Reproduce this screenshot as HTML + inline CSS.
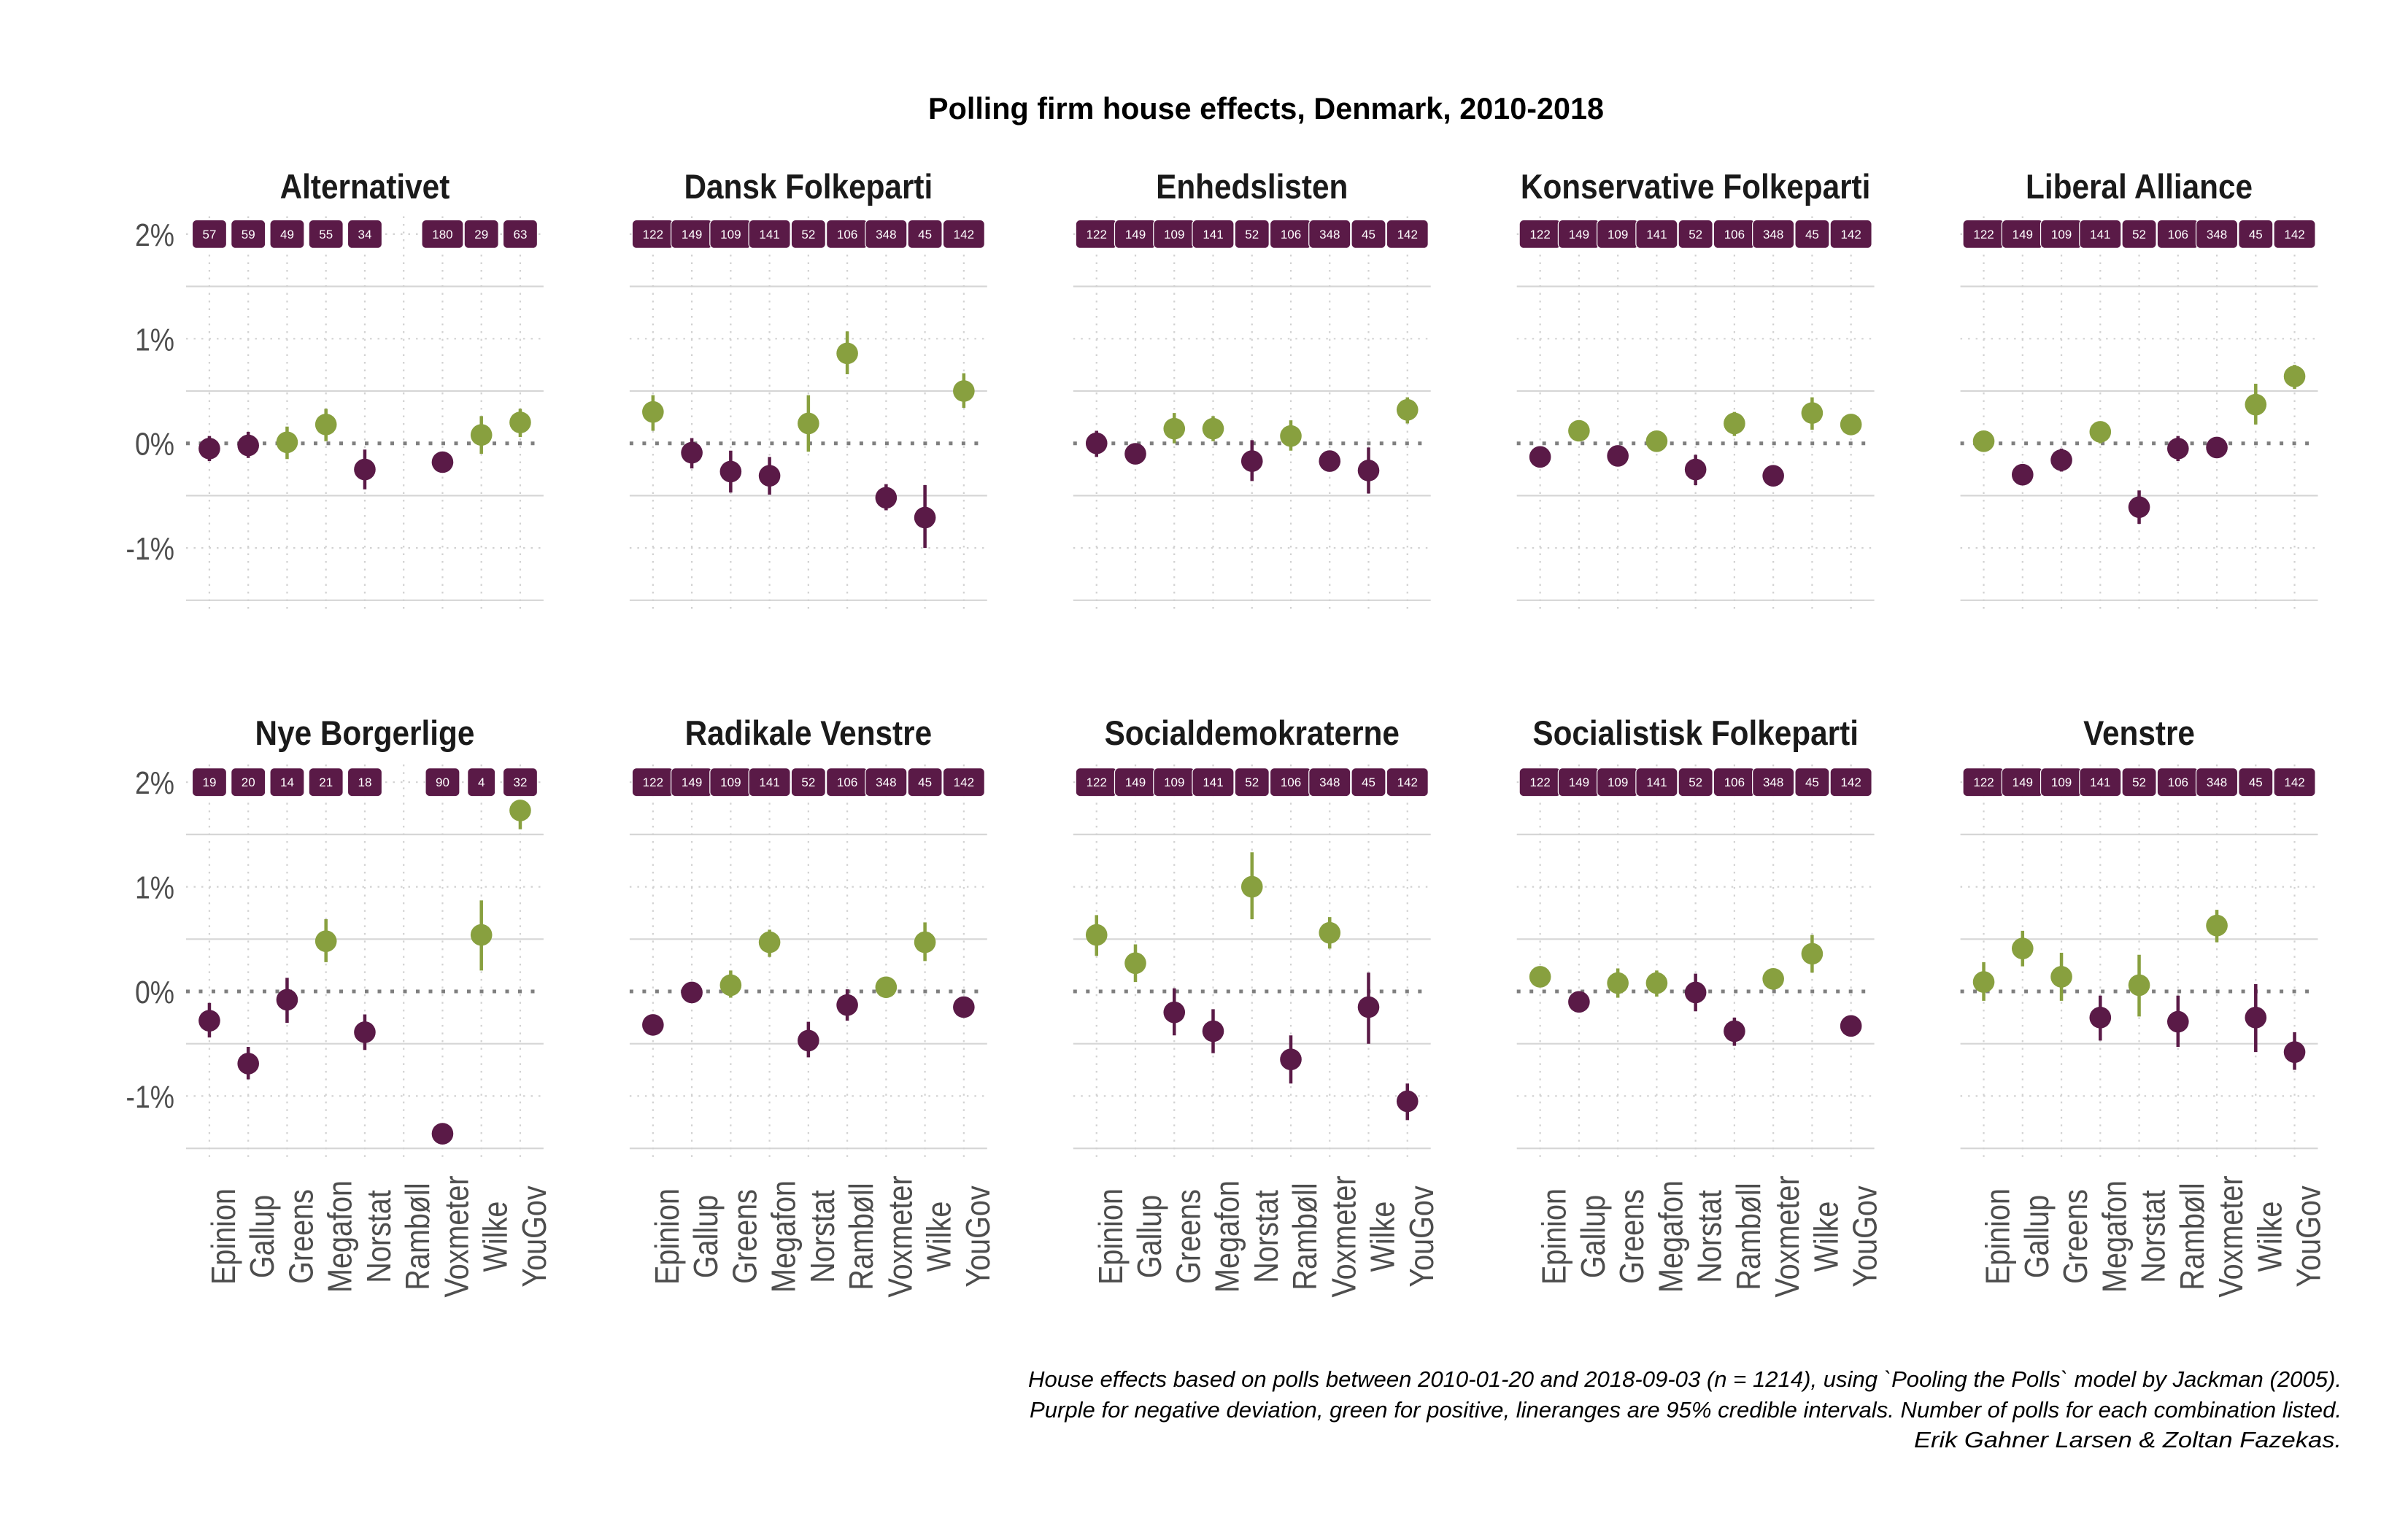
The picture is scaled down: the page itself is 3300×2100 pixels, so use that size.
<!DOCTYPE html>
<html><head><meta charset="utf-8"><title>Polling firm house effects, Denmark, 2010-2018</title>
<style>
html,body{margin:0;padding:0;background:#fff;}
svg{display:block;font-family:"Liberation Sans",Arial,sans-serif;}
</style></head>
<body>
<svg id="chart" width="3300" height="2100" viewBox="0 0 3300 2100" xmlns="http://www.w3.org/2000/svg">
<rect width="3300" height="2100" fill="#ffffff"/>
<text x="1735" y="163" text-anchor="middle" font-size="42" font-weight="bold" fill="#000" textLength="926" lengthAdjust="spacingAndGlyphs">Polling firm house effects, Denmark, 2010-2018</text>
<g font-size="31" font-style="italic" fill="#000" text-anchor="end">
<text x="3209" y="1901" textLength="1800" lengthAdjust="spacingAndGlyphs">House effects based on polls between 2010-01-20 and 2018-09-03 (n = 1214), using `Pooling the Polls` model by Jackman (2005).</text>
<text x="3209" y="1943" textLength="1798" lengthAdjust="spacingAndGlyphs">Purple for negative deviation, green for positive, lineranges are 95% credible intervals. Number of polls for each combination listed.</text>
<text x="3209" y="1984" textLength="586" lengthAdjust="spacingAndGlyphs">Erik Gahner Larsen &amp; Zoltan Fazekas.</text>
</g>
</svg>
<script>
const firms = ["Epinion","Gallup","Greens","Megafon","Norstat","Rambøll","Voxmeter","Wilke","YouGov"];
const parties = ["Alternativet","Dansk Folkeparti","Enhedslisten","Konservative Folkeparti","Liberal Alliance","Nye Borgerlige","Radikale Venstre","Socialdemokraterne","Socialistisk Folkeparti","Venstre"];
const stdCounts = [122,149,109,141,52,106,348,45,142];
const pollCounts = [
  [57,59,49,55,34,null,180,29,63],
  stdCounts, stdCounts, stdCounts, stdCounts,
  [19,20,14,21,18,null,90,4,32],
  stdCounts, stdCounts, stdCounts, stdCounts
];
const estimates = [
  [-0.05,-0.02,0.01,0.18,-0.25,null,-0.18,0.08,0.20],
  [0.30,-0.09,-0.27,-0.31,0.19,0.86,-0.52,-0.71,0.50],
  [0.00,-0.10,0.14,0.14,-0.17,0.07,-0.17,-0.26,0.32],
  [-0.13,0.12,-0.12,0.02,-0.25,0.19,-0.31,0.29,0.18],
  [0.02,-0.30,-0.16,0.11,-0.61,-0.05,-0.04,0.37,0.64],
  [-0.28,-0.69,-0.08,0.48,-0.39,null,-1.36,0.54,1.73],
  [-0.32,-0.01,0.06,0.47,-0.47,-0.13,0.04,0.47,-0.15],
  [0.54,0.27,-0.20,-0.38,1.00,-0.65,0.56,-0.15,-1.05],
  [0.14,-0.10,0.08,0.08,-0.01,-0.38,0.12,0.36,-0.33],
  [0.09,0.41,0.14,-0.25,0.06,-0.29,0.63,-0.25,-0.58]
];
const lowers = [
  [-0.17,-0.14,-0.15,0.02,-0.44,null,-0.24,-0.10,0.06],
  [0.12,-0.24,-0.47,-0.49,-0.08,0.66,-0.64,-1.00,0.34],
  [-0.13,-0.16,0.00,0.02,-0.36,-0.07,-0.24,-0.48,0.19],
  [-0.21,0.05,-0.20,-0.05,-0.40,0.07,-0.38,0.13,0.11],
  [-0.06,-0.37,-0.27,0.00,-0.77,-0.17,-0.10,0.18,0.52],
  [-0.44,-0.84,-0.30,0.28,-0.56,null,-1.42,0.20,1.55],
  [-0.39,-0.08,-0.06,0.33,-0.63,-0.28,-0.02,0.29,-0.22],
  [0.34,0.09,-0.42,-0.59,0.69,-0.88,0.41,-0.50,-1.23],
  [0.08,-0.16,-0.06,-0.05,-0.19,-0.52,0.06,0.18,-0.40],
  [-0.09,0.24,-0.09,-0.47,-0.24,-0.53,0.47,-0.58,-0.75]
];
const uppers = [
  [0.07,0.11,0.16,0.33,-0.06,null,-0.12,0.26,0.33],
  [0.46,0.05,-0.07,-0.13,0.46,1.07,-0.39,-0.40,0.67],
  [0.12,-0.04,0.29,0.26,0.03,0.22,-0.10,-0.04,0.44],
  [-0.06,0.19,-0.05,0.09,-0.11,0.30,-0.24,0.44,0.25],
  [0.09,-0.23,-0.05,0.21,-0.45,0.07,0.02,0.57,0.75],
  [-0.11,-0.53,0.13,0.69,-0.22,null,-1.30,0.87,1.83],
  [-0.25,0.06,0.20,0.59,-0.29,0.02,0.10,0.66,-0.09],
  [0.73,0.45,0.03,-0.17,1.33,-0.42,0.71,0.18,-0.88],
  [0.21,-0.04,0.22,0.20,0.17,-0.25,0.18,0.54,-0.26],
  [0.28,0.58,0.37,-0.04,0.35,-0.04,0.78,0.07,-0.39]
];
const yTicks = [2,1,0,-1];
const yTickLabels = ["2%","1%","0%","-1%"];
const yMinorTicks = [1.5,0.5,-0.5,-1.5];

const NS = "http://www.w3.org/2000/svg";
const svg = document.getElementById("chart");
const PURPLE = "#5a1a47", GREEN = "#88a03f";
const unitX = 53.25, panelW = 9.2 * 53.25, colStep = 607.9, firstLeft = 255;
const rowZero = [607.7, 1359], perPct = 143.4, yTop = 2.17, yBot = -1.62;

function mk(tag, attrs, parent) {
  const el = document.createElementNS(NS, tag);
  for (const k in attrs) el.setAttribute(k, attrs[k]);
  parent.appendChild(el);
  return el;
}
function xScale(col, k) { return firstLeft + col * colStep + (k + 1 - 0.4) * unitX; }
function yScale(row, v) { return rowZero[row] - v * perPct; }

parties.forEach((party, p) => {
  const row = Math.floor(p / 5), col = p % 5;
  const left = firstLeft + col * colStep, right = left + panelW;
  const g = mk("g", {}, svg);
  
  

  yMinorTicks.forEach(t => {
    const ln = mk("line", {x1:left, x2:right, y1:yScale(row,t), y2:yScale(row,t), stroke:"#d6d6d6", "stroke-width":2.2}, g);
    
    
  });
  yTicks.forEach(t => {
    if (t === 0) return;
    const ln = mk("line", {x1:left, x2:right, y1:yScale(row,t), y2:yScale(row,t), stroke:"#d2d2d2", "stroke-width":2.2, "stroke-dasharray":"2.5 8"}, g);
    
    
  });
  firms.forEach((f, k) => {
    const x = xScale(col, k);
    const ln = mk("line", {x1:x, x2:x, y1:yScale(row,yTop), y2:yScale(row,yBot), stroke:"#d2d2d2", "stroke-width":2.2, "stroke-dasharray":"2.5 8"}, g);
    
    
  });
  const zl = mk("line", {x1:left, x2:right, y1:yScale(row,0), y2:yScale(row,0), stroke:"#7f7f7f", "stroke-width":5, "stroke-dasharray":"5 12.5"}, g);
  
  

  const cxTitle = (left + right) / 2;
  const tt = mk("text", {transform:"translate(" + cxTitle + "," + (row === 0 ? 272 : 1021) + ") scale(0.9,1)", "text-anchor":"middle", "font-size":47, "font-weight":"bold", fill:"#1a1a1a"}, g);
  tt.textContent = party;
  
  

  if (col === 0) {
    yTicks.forEach((t, i) => {
      const tx = mk("text", {transform:"translate(239," + (yScale(row,t) + 16) + ") scale(0.85,1)", "text-anchor":"end", "font-size":44, fill:"#4d4d4d"}, g);
      tx.textContent = yTickLabels[i];
      
      
    });
  }
  if (row === 1) {
    firms.forEach((f, k) => {
      const x = xScale(col, k);
      const tx = mk("text", {transform:"translate(" + (x + 35) + ",1695) rotate(-90) scale(0.86,1)", "text-anchor":"middle", "font-size":46, fill:"#4d4d4d"}, g);
      tx.textContent = f;
      
      
    });
  }

  firms.forEach((f, k) => {
    const v = estimates[p][k];
    if (v === null || v === undefined) return;
    const x = xScale(col, k);
    const color = v > 0 ? GREEN : PURPLE;
    const bar = mk("line", {x1:x, x2:x, y1:yScale(row, uppers[p][k]), y2:yScale(row, lowers[p][k]), stroke:color, "stroke-width":4.5}, g);
    
    
    const dot = mk("circle", {cx:x, cy:yScale(row, v), r:14.8, fill:color}, g);
    
    
  });

  firms.forEach((f, k) => {
    const n = pollCounts[p][k];
    if (n === null || n === undefined) return;
    const x = xScale(col, k);
    const digits = String(n).length;
    const w = digits === 1 ? 38 : (digits === 2 ? 47 : 57);
    const cy = yScale(row, 2);
    const lg = mk("g", {}, g);
    
    
    mk("rect", {x:x - w/2, y:cy - 19.5, width:w, height:39, rx:6, ry:6, fill:"#5a1a47", stroke:"#ffffff", "stroke-width":1.2}, lg);
    const tx = mk("text", {x:x, y:cy + 6, "text-anchor":"middle", "font-size":17, fill:"#ffffff"}, lg);
    tx.textContent = String(n);
  });
});
</script>
</body></html>
